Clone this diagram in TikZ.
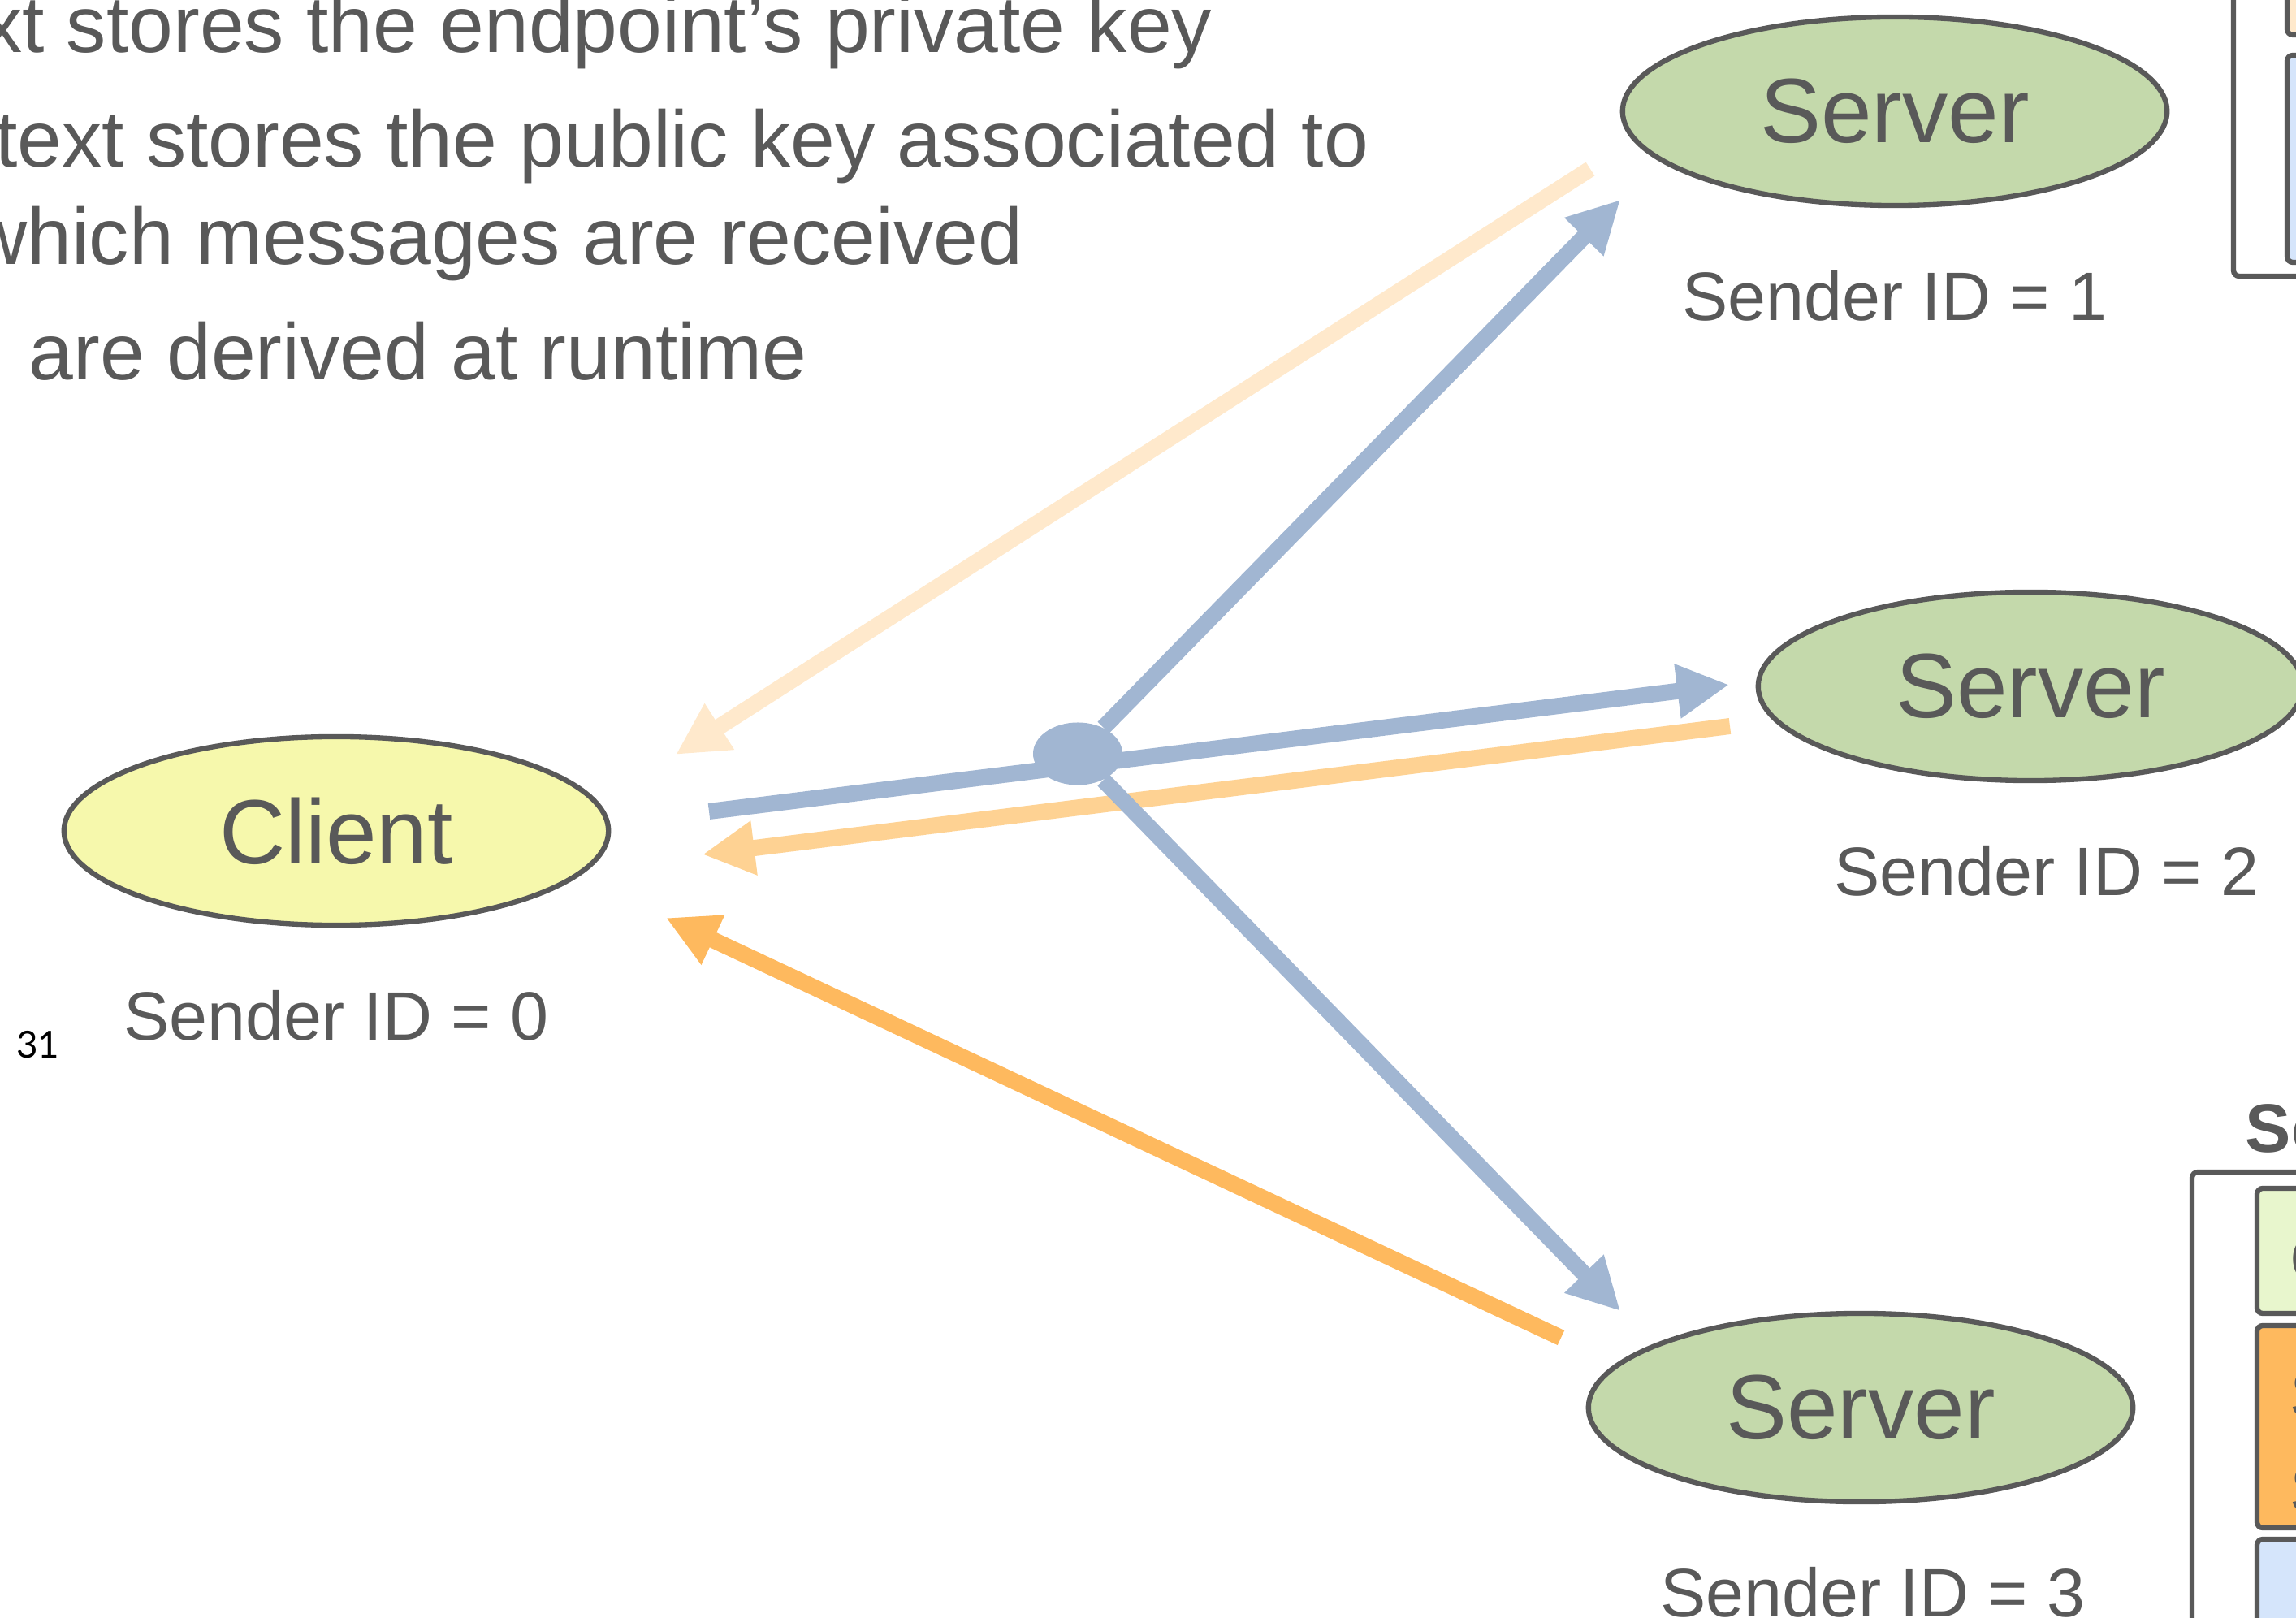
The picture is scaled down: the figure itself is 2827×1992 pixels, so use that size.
\documentclass[tikz,border=0pt]{standalone}
\usepackage{fontspec}
\setmainfont{Liberation Sans}
\newfontfamily\pagefont{Lato}
\usepackage{tikz}
\usetikzlibrary{arrows.meta,positioning,shapes.geometric}
\definecolor{Ink}{HTML}{595959}
\definecolor{ClientFill}{HTML}{F6F8AC}
\definecolor{ServerFill}{HTML}{C4D9AB}
\definecolor{Msg}{HTML}{A1B6D2}
\definecolor{PaleOrange}{HTML}{FFE9CC}
\definecolor{MidOrange}{HTML}{FED293}
\definecolor{DeepOrange}{HTML}{FEB95E}
\definecolor{PaleGreen}{HTML}{E8F6CD}
\definecolor{PaleBlue}{HTML}{D5E5FB}
\tikzset{
  endpoint/.style={draw=Ink, ellipse, line width=1.8pt, minimum width=6.7cm, minimum height=2.32cm, inner sep=0pt, text=Ink, font=\fontsize{32}{38}\selectfont},
  clientnode/.style={endpoint, fill=ClientFill},
  servernode/.style={endpoint, fill=ServerFill},
  senderlabel/.style={text=Ink, inner sep=0pt, font=\fontsize{24}{29}\selectfont},
  bullettext/.style={text=Ink, inner sep=0pt, anchor=base east, font=\fontsize{28}{34}\selectfont},
  keybox/.style={draw=Ink, line width=1.8pt, rounded corners=2pt},
  boxtext/.style={text=Ink, inner sep=0pt, anchor=west, font=\fontsize{24}{29}\selectfont},
  hubdot/.style={ellipse, fill=Msg, minimum width=1.1cm, minimum height=0.77cm, inner sep=0pt},
  msgarrow/.style={-{Triangle[length=6.4mm, width=6.3mm]}, line width=2mm},
  bluearrow/.style={msgarrow, color=Msg},
  paleorangearrow/.style={msgarrow, color=PaleOrange},
  midorangearrow/.style={msgarrow, color=MidOrange},
  deeporangearrow/.style={msgarrow, color=DeepOrange}
}
\begin{document}
\begin{tikzpicture}[x=0.01cm, y=-0.01cm, node distance=7.6mm]
  \useasboundingbox (0,0) rectangle (2827,1992);
  \clip (0,0) rectangle (2827,1992);

  \node[bullettext] (privkey) at (1493,65) {xt stores the endpoint’s private key};
  \node[bullettext] (pubkey) at (1686,206) {text stores the public key associated to};
  \node[bullettext] (pubkeymore) at (1260,326) {which messages are received};
  \node[bullettext, anchor=base west] (runtime) at (35,468) {are derived at runtime};

  \node[clientnode] (client) at (414,1023) {Client};
  \node[servernode] (server1) at (2333,137) {Server};
  \node[servernode] (server2) at (2500,845) {Server};
  \node[servernode] (server3) at (2291,1733) {Server};

  \node[senderlabel, below=of client] (sender0) {Sender ID = 0};
  \node[senderlabel, below=of server1] (sender1) {Sender ID = 1};
  \node[senderlabel, below=of server2, xshift=2mm] (sender2) {Sender ID = 2};
  \node[senderlabel, below=of server3, xshift=1.5mm] (sender3) {Sender ID = 3};

  \node[font=\pagefont\fontsize{13}{15}\selectfont, text=black, inner sep=0pt] (pagenum) at (47,1286) {31};

  \draw[keybox, fill=white] (2750,-30) rectangle (2900,340);
  \draw[keybox, fill=PaleOrange] (2816,-60) rectangle (2900,43);
  \draw[keybox, fill=PaleBlue] (2816,68) rectangle (2900,323);

  \node[boxtext, anchor=base west, font=\bfseries\fontsize{24}{29}\selectfont] (legendtitle) at (2764,1418) {Se};
  \draw[keybox, fill=white] (2699,1443) rectangle (2900,2100);
  \draw[keybox, fill=PaleGreen] (2779,1463) rectangle (2900,1617);
  \draw[keybox, fill=DeepOrange] (2779,1632) rectangle (2900,1881);
  \draw[keybox, fill=PaleBlue] (2779,1895) rectangle (2900,2100);
  \node[boxtext] (greenrow) at (2819,1550) {C};
  \node[boxtext] (orangerow1) at (2819,1717) {S};
  \node[boxtext] (orangerow2) at (2819,1834) {S};

  \coordinate (s1out) at (1958,208);
  \coordinate (c1in) at (832,929);
  \coordinate (s1in) at (1995,246);
  \coordinate (cout) at (873,999);
  \coordinate (s2in) at (2129,843);
  \coordinate (s3in) at (1995,1614);
  \coordinate (s2out) at (2130,894);
  \coordinate (c2in) at (865,1052);
  \coordinate (s3out) at (1922,1647);
  \coordinate (c3in) at (820,1130);

  \draw[paleorangearrow] (s1out) -- (c1in);
  \draw[midorangearrow] (s2out) -- (c2in);
  \draw[deeporangearrow] (s3out) -- (c3in);

  \node[hubdot] (hub) at (1327,928) {};
  \draw[bluearrow] (cout) -- (s2in);
  \draw[bluearrow] (hub) -- (s1in);
  \draw[bluearrow] (hub) -- (s3in);
\end{tikzpicture}
\end{document}
